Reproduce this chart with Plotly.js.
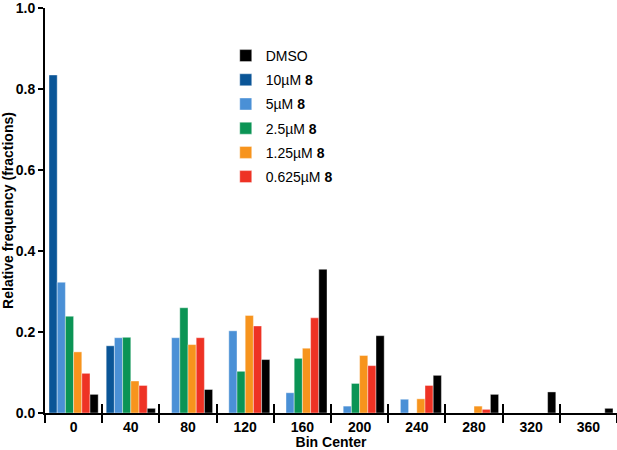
<!DOCTYPE html>
<html>
<head>
<meta charset="utf-8">
<script src="https://cdn.plot.ly/plotly-3.0.1.min.js"></script>
<style>html,body{margin:0;padding:0;background:#fff}</style>
</head>
<body>
<div id="chart" style="width:617px;height:450px"></div>
<script>
var binCenters = ['0','40','80','120','160','200','240','280','320','360'];
var seriesNames = ['10µM <b>8</b>','5µM <b>8</b>','2.5µM <b>8</b>','1.25µM <b>8</b>','0.625µM <b>8</b>','DMSO'];
var seriesColors = ['#0a5597','#4a90d6','#0b9455','#f7941d','#ee3224','#000000'];
var legendRanks = [2,3,4,5,6,1];

var conc10 = [0.835, 0.166, 0, 0, 0, 0, 0, 0, 0, 0];
var conc5 = [0.323, 0.186, 0.186, 0.203, 0.050, 0.017, 0.034, 0, 0, 0];
var conc2_5 = [0.239, 0.187, 0.260, 0.103, 0.135, 0.073, 0, 0, 0, 0];
var conc1_25 = [0.151, 0.079, 0.169, 0.241, 0.160, 0.142, 0.035, 0.017, 0, 0];
var conc0_625 = [0.098, 0.068, 0.186, 0.215, 0.235, 0.117, 0.068, 0.009, 0, 0];
var dmso = [0.046, 0.0115, 0.058, 0.132, 0.355, 0.191, 0.093, 0.046, 0.052, 0.0115];

var seriesValues = [conc10, conc5, conc2_5, conc1_25, conc0_625, dmso];
var yTicks = [0, 0.2, 0.4, 0.6, 0.8, 1.0];

var fontFam = 'Liberation Sans, Arial, Helvetica, sans-serif';

var traces = seriesValues.map(function(vals, i){
  return {
    type: 'bar', x: binCenters, y: vals, name: seriesNames[i],
    legendgroup: 'g' + i,
    marker: {color: seriesColors[i], line: {width: 0.4, color: '#ffffff'}},
    legendrank: legendRanks[i], hoverinfo: 'x+y+name'
  };
});
traces.push({
  type: 'scatter', mode: 'markers', x: binCenters, y: binCenters.map(function(){return 0;}),
  xaxis: 'x2', marker: {opacity: 0}, showlegend: false, hoverinfo: 'skip'
});

var layout = {
  width: 617, height: 450,
  margin: {l: 45, r: 0, t: 8, b: 37},
  paper_bgcolor: '#fff', plot_bgcolor: '#fff',
  font: {family: fontFam, color: '#000', size: 14},
  barmode: 'group', bargap: 0.14, bargroupgap: 0,
  showlegend: true,
  legend: {x: 0.316, xanchor: 'left', y: 0.921, yanchor: 'top',
           font: {size: 14, family: fontFam}, bgcolor: 'rgba(0,0,0,0)',
           traceorder: 'grouped', tracegroupgap: 3},
  xaxis: {
    type: 'category', categoryarray: binCenters, range: [-0.5, 9.5],
    showline: true, linecolor: '#000', linewidth: 2,
    ticks: 'inside', ticklen: 9, tickwidth: 2, tickcolor: '#000', tickson: 'boundaries',
    tickfont: {size: 14, weight: 'bold', family: fontFam},
    showgrid: false, zeroline: false, automargin: false, fixedrange: true,
    title: {text: 'Bin Center', font: {size: 14, weight: 'bold', family: fontFam}, standoff: 0}
  },
  xaxis2: {
    type: 'category', categoryarray: binCenters, range: [-0.5, 9.5],
    overlaying: 'x', side: 'bottom', anchor: 'y',
    showline: false, ticks: 'outside', ticklen: 9, tickwidth: 2, tickcolor: '#000',
    tickson: 'boundaries', showticklabels: false, showgrid: false, zeroline: false,
    automargin: false, fixedrange: true
  },
  yaxis: {
    range: [0, 1.0005], tickvals: yTicks, tickformat: '.1f',
    showline: true, linecolor: '#000', linewidth: 2,
    ticks: 'outside', ticklen: 5, tickwidth: 2, tickcolor: '#000',
    tickfont: {size: 14, weight: 'bold', family: fontFam}, ticklabeloverflow: 'allow',
    showgrid: false, zeroline: false, automargin: false, fixedrange: true,
    title: {text: 'Relative frequency (fractions)', font: {size: 14, weight: 'bold', family: fontFam}, standoff: 2}
  }
};

Plotly.newPlot('chart', traces, layout, {displayModeBar: false, staticPlot: true});
</script>
</body>
</html>
